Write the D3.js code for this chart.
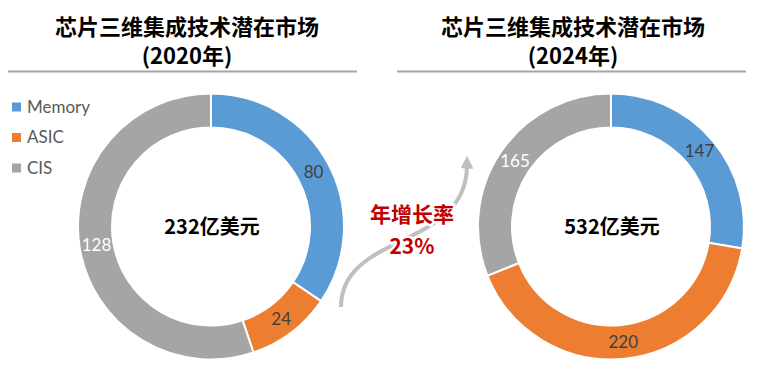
<!DOCTYPE html>
<html lang="zh">
<head>
    <meta charset="UTF-8">
    <title>芯片三维集成技术潜在市场</title>
    <script src="https://d3js.org/d3.v7.min.js"></script>
    <style>
        body { margin: 0; background: #fff; }
        svg { display: block; }
    </style>
</head>
<body>
    <div id="output"></div>
    <script>
        // data (亿美元)
        var categories = ["Memory", "ASIC", "CIS"];
        var colors = ["#5b9bd5", "#ed7d31", "#a5a5a5"];
        var values2020 = [80, 24, 128];
        var values2024 = [147, 220, 165];
        var years = ["2020", "2024"];
        var titleText = "芯片三维集成技术潜在市场";
        var growthLabel = ["年增长率", "23%"];

        var width = 772, height = 372;
        var cjk = "'Noto Sans CJK SC', 'Microsoft YaHei', sans-serif";
        var latin = "Lato, 'Open Sans', sans-serif";

        var svg = d3.select("#output").append("svg")
            .attr("width", width)
            .attr("height", height);

        var color = d3.scaleOrdinal().domain(categories).range(colors);

        var outerR = 133, innerR = 99;
        var pie = d3.pie().sort(null).value(function(d) { return d.value; });
        var arc = d3.arc().innerRadius(innerR).outerRadius(outerR);

        var panels = [
            { year: years[0], values: values2020, cx: 211, titleX: 187, x0: 8, x1: 357 },
            { year: years[1], values: values2024, cx: 611, titleX: 573, x0: 397, x1: 746 }
        ];
        var cy = 226.5;

        panels.forEach(function(p) {
            // title block
            svg.append("text")
                .attr("x", p.titleX).attr("y", 35)
                .attr("text-anchor", "middle")
                .style("font-family", cjk).style("font-weight", "bold")
                .style("font-size", "22px").style("fill", "#000")
                .text(titleText);
            svg.append("text")
                .attr("x", p.titleX).attr("y", 64)
                .attr("text-anchor", "middle")
                .style("font-family", cjk).style("font-weight", "bold")
                .style("font-size", "22px").style("fill", "#000")
                .text("(" + p.year + "年)");
            svg.append("line")
                .attr("x1", p.x0).attr("x2", p.x1)
                .attr("y1", 71.5).attr("y2", 71.5)
                .style("stroke", "#a6a6a6").style("stroke-width", 2);

            var data = categories.map(function(c, i) { return { name: c, value: p.values[i] }; });
            var g = svg.append("g").attr("transform", "translate(" + p.cx + "," + cy + ")");
            var arcs = pie(data);

            g.selectAll("path")
                .data(arcs)
                .enter().append("path")
                .attr("d", arc)
                .style("fill", function(d) { return color(d.data.name); })
                .style("stroke", "#fff")
                .style("stroke-width", 2);

            g.selectAll("text.val")
                .data(arcs)
                .enter().append("text")
                .attr("class", "val")
                .attr("transform", function(d) { return "translate(" + arc.centroid(d) + ")"; })
                .attr("text-anchor", "middle")
                .attr("dy", "0.35em")
                .style("font-family", latin)
                .style("font-size", "17px")
                .style("fill", function(d) { return d.data.name == "CIS" ? "#fff" : "#404040"; })
                .text(function(d) { return d.data.value; });

            var total = d3.sum(p.values);
            g.append("text")
                .attr("x", 1).attr("y", 0)
                .attr("dy", "0.35em")
                .attr("text-anchor", "middle")
                .style("font-family", cjk).style("font-weight", "bold")
                .style("font-size", "20px").style("fill", "#000")
                .text(total + "亿美元");
        });

        // legend
        var legend = svg.selectAll(".legend")
            .data(categories)
            .enter().append("g")
            .attr("class", "legend")
            .attr("transform", function(d, i) { return "translate(12," + (107 + i * 30.5) + ")"; });
        legend.append("rect")
            .attr("x", 0).attr("y", -4.5)
            .attr("width", 9).attr("height", 9)
            .style("fill", function(d) { return color(d); });
        legend.append("text")
            .attr("x", 15).attr("dy", "0.35em")
            .style("font-family", latin).style("font-size", "17px")
            .style("fill", "#595959")
            .text(function(d) { return d; });

        // growth arrow
        svg.append("defs").append("marker")
            .attr("id", "head")
            .attr("viewBox", "0 0 10 10")
            .attr("refX", 2).attr("refY", 5)
            .attr("markerWidth", 3.2).attr("markerHeight", 3.2)
            .attr("orient", "auto")
            .append("path")
            .attr("d", "M0,0L10,5L0,10Z")
            .style("fill", "#bfbfbf");

        var curve = d3.path();
        curve.moveTo(341, 307);
        curve.bezierCurveTo(341, 232, 466, 250, 467, 166);
        svg.append("path")
            .attr("d", curve.toString())
            .style("fill", "none")
            .style("stroke", "#bfbfbf")
            .style("stroke-width", 4)
            .attr("marker-end", "url(#head)");

        svg.selectAll(".growth")
            .data(growthLabel)
            .enter().append("text")
            .attr("class", "growth")
            .attr("x", 412)
            .attr("y", function(d, i) { return 222 + i * 32; })
            .attr("text-anchor", "middle")
            .style("font-family", cjk).style("font-weight", "bold")
            .style("font-size", "21px").style("fill", "#c00000")
            .style("paint-order", "stroke")
            .style("stroke", "#fff").style("stroke-width", 5)
            .text(function(d) { return d; });
    </script>
</body>
</html>
